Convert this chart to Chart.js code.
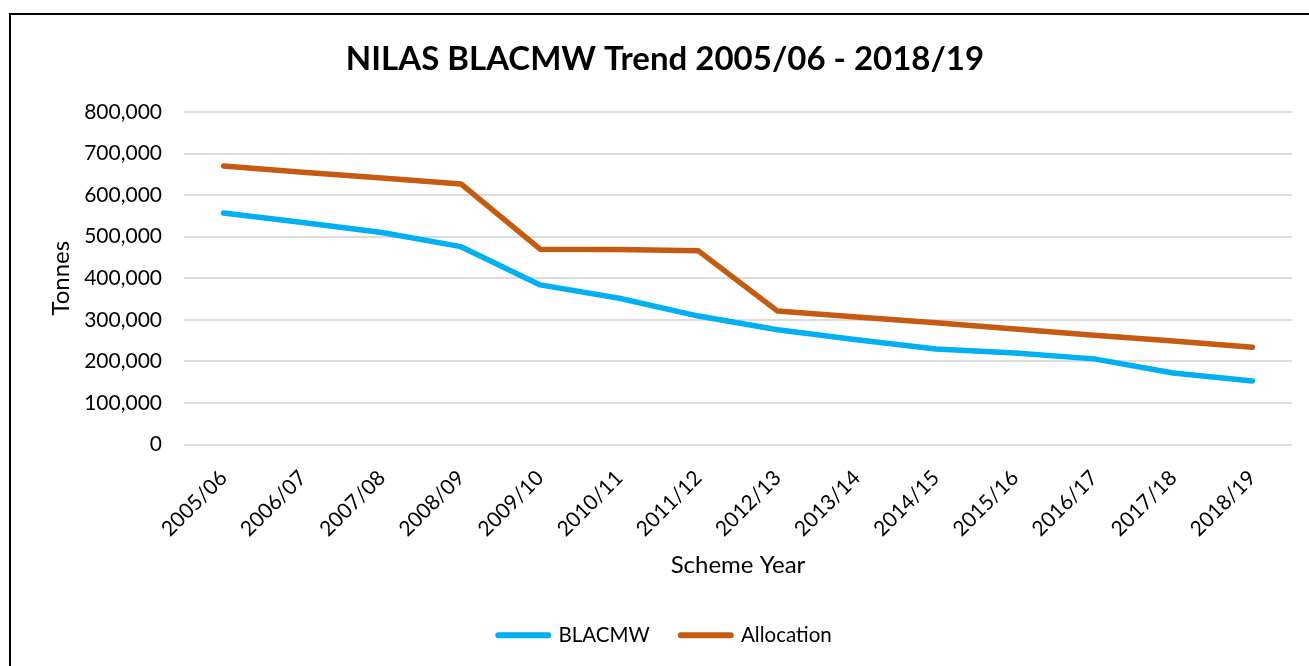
<!DOCTYPE html>
<html>
<head>
<meta charset="utf-8">
<script src="https://cdn.jsdelivr.net/npm/chart.js@4.4.1/dist/chart.umd.min.js"></script>
<style>
  html, body { margin: 0; padding: 0; background: #fff; overflow: hidden; }
  #wrap { position: absolute; left: 0; top: 0; width: 1309px; height: 666px; }
  #frame { position: absolute; left: 9px; top: 13px; width: 1400px; height: 700px;
           border-left: 2px solid #000; border-top: 2px solid #000; pointer-events: none; }
  canvas { position: absolute; left: 0; top: 0; }
</style>
</head>
<body>
<div id="wrap">
  <canvas id="c" width="1309" height="666"></canvas>
  <div id="frame"></div>
</div>
<script>
const categories = ['2005/06','2006/07','2007/08','2008/09','2009/10','2010/11','2011/12',
                    '2012/13','2013/14','2014/15','2015/16','2016/17','2017/18','2018/19'];
const blacmw = [557000, 534000, 510000, 476000, 384000, 352000, 309000,
                276000, 252000, 230000, 220000, 206000, 172000, 153000];
const allocation = [670000, 655000, 641000, 627000, 470000, 469000, 466000,
                    321000, 307000, 293000, 278000, 263000, 249000, 234000];
const yTickValues = [0, 100000, 200000, 300000, 400000, 500000, 600000, 700000, 800000];
const titleText = 'NILAS BLACMW Trend 2005/06 - 2018/19';

const FONT = 'Lato';

new Chart(document.getElementById('c'), {
  type: 'line',
  data: {
    labels: categories,
    datasets: [
      { label: 'BLACMW', data: blacmw, borderColor: '#00B0F0', backgroundColor: '#00B0F0',
        borderWidth: 5.5, pointRadius: 0, pointHoverRadius: 0, tension: 0,
        borderCapStyle: 'round', borderJoinStyle: 'round', pointStyle: 'line' },
      { label: 'Allocation', data: allocation, borderColor: '#C55A11', backgroundColor: '#C55A11',
        borderWidth: 5.5, pointRadius: 0, pointHoverRadius: 0, tension: 0,
        borderCapStyle: 'round', borderJoinStyle: 'round', pointStyle: 'line' }
    ]
  },
  options: {
    responsive: false,
    animation: false,
    layout: { padding: { left: 38, right: 17, top: 30, bottom: 10.5 } },
    plugins: {
      title: {
        display: true, text: titleText, color: '#000',
        font: { family: FONT, size: 33, weight: 'bold' },
        padding: { top: 10, bottom: 32.4 }
      },
      legend: {
        position: 'bottom',
        labels: {
          usePointStyle: true, pointStyleWidth: 50, padding: 31,
          color: '#000', font: { family: FONT, size: 20.5 },
          generateLabels: (chart) => Chart.defaults.plugins.legend.labels.generateLabels(chart)
            .map(l => Object.assign(l, { lineCap: 'round', lineWidth: 6 }))
        }
      },
      tooltip: { enabled: false }
    },
    scales: {
      x: {
        offset: true,
        grid: { display: false, drawTicks: false },
        border: { display: false },
        ticks: { color: '#000', font: { family: FONT, size: 21 }, maxRotation: 45, minRotation: 45, padding: 21 },
        title: { display: true, text: 'Scheme Year', color: '#000',
                 font: { family: FONT, size: 24 }, padding: { top: 0, bottom: 14.7 } },
        afterFit: (s) => { s.height = 149.5; }
      },
      y: {
        min: 0, max: 800000,
        afterBuildTicks: (s) => { s.ticks = yTickValues.map(v => ({ value: v })); },
        grid: { color: '#DCDCDC', lineWidth: 2, drawTicks: false },
        border: { display: false },
        ticks: { color: '#000', font: { family: FONT, size: 21 }, padding: 22,
                 callback: (v) => v.toLocaleString('en-US') },
        title: { display: true, text: 'Tonnes', color: '#000',
                 font: { family: FONT, size: 24 }, padding: { top: 8.6, bottom: 0 } },
        afterFit: (s) => { s.width = 146; }
      }
    }
  }
});
</script>
</body>
</html>
